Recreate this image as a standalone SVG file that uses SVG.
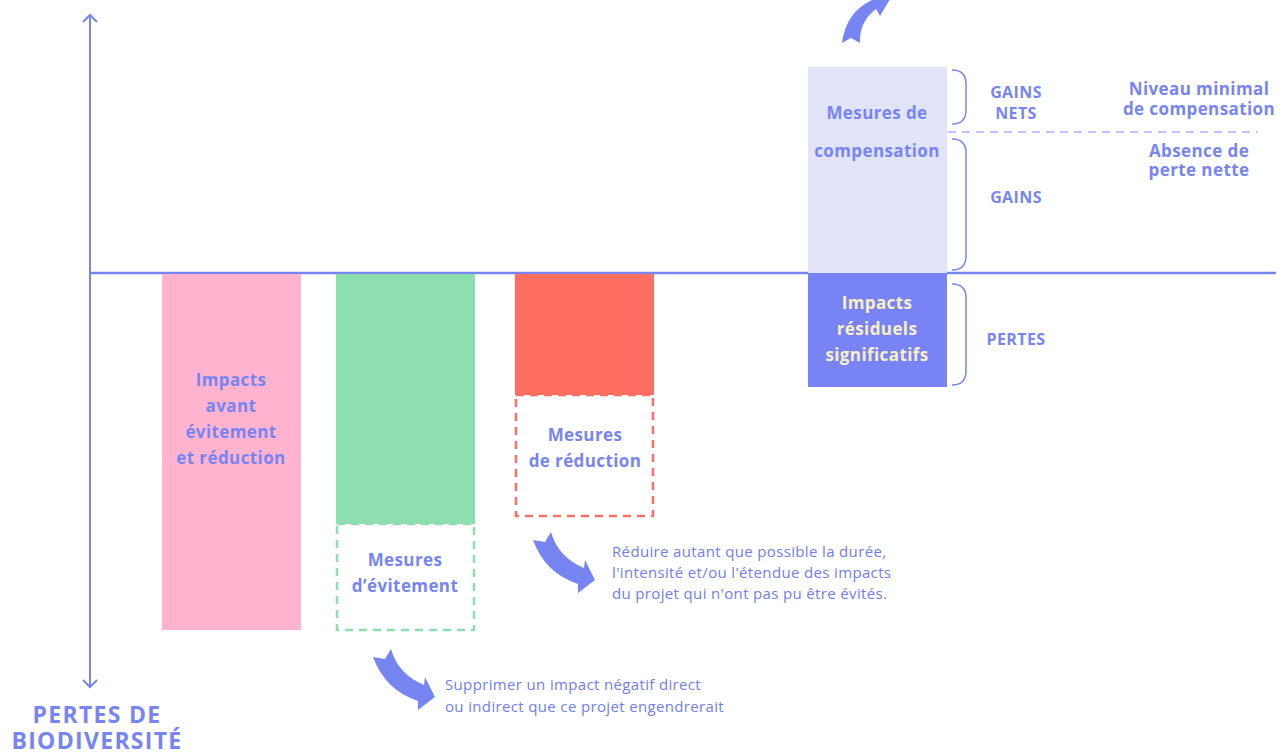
<svg xmlns="http://www.w3.org/2000/svg" width="1286" height="754" viewBox="0 0 1286 754">
<style>
.t{font-family:"Open Sans","Liberation Sans",sans-serif;font-weight:700;fill:#7785F3;text-anchor:middle;letter-spacing:0.4px}
.b{font-size:17px}
.s{font-size:16px}
.d{font-family:"Open Sans","Liberation Sans",sans-serif;font-weight:400;font-size:15px;letter-spacing:0.35px;fill:#6F7EF2}
.ax{stroke:#7785F3;stroke-width:2;fill:none}
.br{stroke:#7785F3;stroke-width:1.5;fill:none}
.arr{fill:#7785F3}
</style>
<rect width="1286" height="754" fill="#fff"/>
<g id="axes">
<path class="ax" d="M90,15 V687"/>
<path class="ax" d="M83,22 L90,15 L97,22"/>
<path class="ax" d="M83,680 L90,687 L97,680"/>
<path d="M90,273 H1276" stroke="#7785F3" stroke-width="2.5"/>
<path d="M808,132 H1258" stroke="#A9B1F5" stroke-width="1.5" stroke-dasharray="8 6"/>
</g>
<g id="impacts-avant">
<rect x="162" y="274" width="139" height="356" fill="#FFB3CE"/>
<text class="t b"><tspan x="231" y="386">Impacts</tspan><tspan x="231" y="412">avant</tspan><tspan x="231" y="438">évitement</tspan><tspan x="231" y="464">et réduction</tspan></text>
</g>
<g id="evitement">
<rect x="337" y="524" width="137" height="106" fill="none" stroke="#8DDFB0" stroke-width="2.5" stroke-dasharray="8 6"/>
<rect x="336" y="274" width="139" height="250" fill="#8DDFB0"/>
<text class="t b"><tspan x="405" y="566">Mesures</tspan><tspan x="405" y="592">d’évitement</tspan></text>
</g>
<g id="reduction">
<rect x="516" y="395" width="137" height="121" fill="none" stroke="#FF6F61" stroke-width="2.5" stroke-dasharray="8 6"/>
<rect x="515" y="274" width="139" height="121" fill="#FF6F61"/>
<text class="t b"><tspan x="585" y="441">Mesures</tspan><tspan x="585" y="467">de réduction</tspan></text>
</g>
<g id="compensation">
<rect x="808" y="67" width="139" height="206" fill="#E2E4FA"/>
<text class="t b"><tspan x="877" y="119">Mesures de</tspan><tspan x="877" y="157">compensation</tspan></text>
</g>
<g id="residuels">
<rect x="808" y="274" width="139" height="113" fill="#7884F5"/>
<text class="t b" style="fill:#F8F0C2"><tspan x="877" y="309">Impacts</tspan><tspan x="877" y="335">résiduels</tspan><tspan x="877" y="361">significatifs</tspan></text>
</g>
<g id="braces">
<path class="br" d="M952,70 Q966,70 966,84 V110 Q966,124 952,124"/>
<path class="br" d="M952,139 Q966,139 966,153 V256 Q966,270 952,270"/>
<path class="br" d="M952,284 Q966,284 966,298 V371 Q966,385 952,385"/>
</g>
<g id="labels">
<text class="t s"><tspan x="1016" y="98">GAINS</tspan><tspan x="1016" y="119">NETS</tspan></text>
<text class="t s" x="1016" y="203">GAINS</text>
<text class="t s" x="1016" y="345">PERTES</text>
<text class="t b"><tspan x="1199" y="95">Niveau minimal</tspan><tspan x="1199" y="115">de compensation</tspan></text>
<text class="t b"><tspan x="1199" y="157">Absence de</tspan><tspan x="1199" y="176">perte nette</tspan></text>
<text class="t" style="font-size:23px;letter-spacing:1.3px"><tspan x="97" y="723">PERTES DE</tspan><tspan x="97" y="749">BIODIVERSITÉ</tspan></text>
</g>
<g id="descriptions">
<text class="d"><tspan x="612" y="557">Réduire autant que possible la durée,</tspan><tspan x="612" y="578">l'intensité et/ou l'étendue des impacts</tspan><tspan x="612" y="599">du projet qui n'ont pas pu être évités.</tspan></text>
<text class="d"><tspan x="445" y="690">Supprimer un impact négatif direct</tspan><tspan x="445" y="712">ou indirect que ce projet engendrerait</tspan></text>
</g>
<g id="connectors">
<path class="arr" d="M533,540 L545,542 L551,532 Q558,557 584,568 L585,560 L595,580 L578,593 L578,584 Q545,573 533,540 Z"/>
<path class="arr" transform="translate(-160,117)" d="M533,540 L545,542 L551,532 Q558,557 584,568 L585,560 L595,580 L578,593 L578,584 Q545,573 533,540 Z"/>
<path class="arr" d="M842,43 L851,38 L860,43 Q859,22 876,9 L880,16 L893,-6 L868,-8 L872,0 Q846,12 842,43 Z"/>
</g>
</svg>
